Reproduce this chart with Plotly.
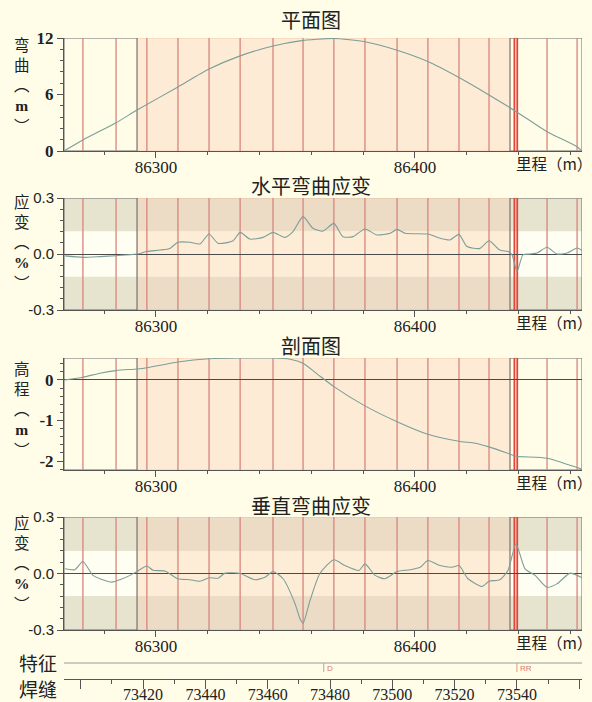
import plotly.graph_objects as go

W, H = 592, 702

# ---------------- data ----------------
plan_x = [86264.5, 86271.8, 86284.6, 86292.7, 86308.5, 86320.5, 86332.5, 86345.2, 86355.6,
          86368.7, 86380.7, 86393.1, 86405.0, 86417.0, 86428.6, 86439.0, 86451.0, 86462.6, 86464.5]
plan_y = [0, 1.17, 3.0, 4.35, 6.8, 8.7, 10.1, 11.15, 11.7,
          11.95, 11.6, 10.7, 9.5, 7.8, 5.95, 4.2, 2.05, 0.45, 0]

hs_x = [86264.9, 86271.8, 86278.4, 86284.6, 86292.7, 86296.5, 86301.6, 86305.4, 86308.5, 86313.1,
        86317.0, 86320.5, 86324.0, 86329.8, 86332.5, 86336.3, 86341.3, 86345.2, 86349.8, 86352.9,
        86356.8, 86360.6, 86364.5, 86368.7, 86372.2, 86376.1, 86380.7, 86385.3, 86390.4, 86393.1,
        86396.2, 86405.0, 86409.7, 86413.5, 86417.0, 86420.1, 86425.1, 86428.6, 86432.8, 86435.9,
        86437.5, 86439.4, 86441.7, 86444.4, 86447.1, 86451.0, 86454.8, 86458.7, 86462.6, 86464.5]
hs_y = [-0.01, -0.018, -0.014, -0.009, 0.0, 0.013, 0.021, 0.03, 0.063, 0.063,
        0.054, 0.107, 0.057, 0.071, 0.116, 0.08, 0.089, 0.116, 0.089, 0.12,
        0.2, 0.138, 0.123, 0.164, 0.093, 0.093, 0.134, 0.102, 0.111, 0.132,
        0.111, 0.107, 0.084, 0.075, 0.105, 0.04, 0.03, 0.071, 0.021, 0.013,
        -0.005, -0.095, -0.005, 0.0, 0.005, 0.036, 0.0, 0.005, 0.032, 0.02]

el_x = [86264.9, 86271.8, 86278.4, 86284.6, 86292.7, 86296.5, 86308.5, 86320.5, 86332.5, 86345.2,
        86351.8, 86356.8, 86362.2, 86368.7, 86380.7, 86393.1, 86405.0, 86417.0, 86423.2, 86428.6,
        86436.7, 86439.0, 86451.0, 86462.6, 86464.5]
el_y = [0, 0.066, 0.165, 0.23, 0.27, 0.30, 0.44, 0.52, 0.54, 0.54,
        0.51, 0.41, 0.15, -0.165, -0.64, -1.03, -1.34, -1.51, -1.56, -1.65,
        -1.83, -1.88, -1.93, -2.16, -2.2]

vs_x = [86264.9, 86268.7, 86271.8, 86275.7, 86280.3, 86283.0, 86286.1, 86290.0, 86292.7, 86296.5,
        86298.9, 86303.5, 86308.5, 86313.1, 86317.0, 86320.5, 86324.0, 86326.7, 86332.5, 86338.2,
        86342.1, 86345.2, 86349.1, 86353.7, 86355.6, 86356.8, 86359.5, 86363.3, 86368.7, 86373.0,
        86378.4, 86380.7, 86384.6, 86388.4, 86393.1, 86398.1, 86402.0, 86405.0, 86409.7, 86414.3,
        86417.0, 86420.5, 86425.9, 86428.6, 86432.8, 86435.9, 86439.0, 86442.5, 86446.4, 86451.0,
        86454.8, 86459.9, 86462.6, 86464.5]
vs_y = [0.025, 0.02, 0.064, -0.01, -0.037, -0.046, -0.033, -0.01, 0.011, 0.04,
        0.017, 0.013, -0.028, -0.033, -0.041, -0.023, -0.025, 0.002, 0.0, -0.033,
        -0.02, 0.011, -0.028, -0.16, -0.24, -0.264, -0.143, 0.0, 0.073, 0.042,
        0.016, 0.051, -0.01, -0.028, 0.011, 0.02, 0.033, 0.069, 0.042, 0.033,
        0.042, -0.028, -0.069, -0.041, -0.033, 0.016, 0.158, 0.025, -0.01, -0.073,
        -0.055, 0.002, -0.01, -0.023]

weld_x = [86271.8, 86284.6, 86296.5, 86308.5, 86320.5, 86332.5, 86345.2, 86356.8, 86368.7,
          86380.7, 86393.1, 86405.0, 86417.0, 86428.6, 86451.0, 86462.6]
special_weld_x = [86438.4, 86439.5]

mile_range = [86264.5, 86464.5]
mile_ticks = [86300, 86400]
inspect_left = 86292.7      # start of shaded zone
inspect_right = 86436.7     # end of shaded zone
strain_band = 0.12

odo_range = [73394.6, 73560.9]
odo_ticks = [73400, 73420, 73440, 73460, 73480, 73500, 73520, 73540, 73560]
odo_labels = ["", "73420", "73440", "73460", "73480", "73500", "73520", "73540", ""]
feature_pos = [73478, 73540]
feature_txt = ["D", "RR"]

titles = ["平面图", "水平弯曲应变", "剖面图", "垂直弯曲应变"]
ytitle_names = ["弯曲", "应变", "高程", "应变"]
ytitle_units = ["m", "%", "m", "%"]

# ---------------- styling helpers ----------------
BG = "#FFFDE8"
LINE_C = "#7C9E98"
WELD_C = "#D8857C"
AX_C = "#555555"
TXT_C = "#222222"
SERIF = "Liberation Serif, DejaVu Serif, serif"
SANS = "Liberation Sans, Arial, sans-serif"
CJK = "Noto Sans CJK SC"

def py(p):
    return 1 - p / H

def px(p):
    return p / W

panels = [(38, 151), (198, 310), (358, 470), (517, 630)]
xdom = [px(64), px(582)]

fig = go.Figure()
series = [(plan_x, plan_y), (hs_x, hs_y), (el_x, el_y), (vs_x, vs_y)]
for i, (sx, sy) in enumerate(series):
    n = "" if i == 0 else str(i + 1)
    fig.add_trace(go.Scatter(x=sx, y=sy, mode="lines",
                             line=dict(color=LINE_C, width=1.1, shape="spline", smoothing=0.6),
                             xaxis="x" + n, yaxis="y" + n, showlegend=False, hoverinfo="skip"))
# dummy trace for feature axis
fig.add_trace(go.Scatter(x=[odo_range[0]], y=[0.5], mode="markers", marker=dict(opacity=0),
                         xaxis="x5", yaxis="y5", showlegend=False, hoverinfo="skip"))

yranges = [[0, 12], [-0.3, 0.3], [-2.22, 0.54], [-0.3, 0.3]]
yticks = [([0, 6, 12], ["0", "6", "12"]),
          ([-0.3, 0, 0.3], ["-0.3", "0.0", "0.3"]),
          ([-2, -1, 0], ["-2", "-1", "0"]),
          ([-0.3, 0, 0.3], ["-0.3", "0.0", "0.3"])]
yminor = [1.2, 0.06, 0.2, 0.06]
yfont = [dict(family=SERIF, size=17, color=TXT_C, weight="bold"),
         dict(family=SANS, size=15, color=TXT_C),
         dict(family=SERIF, size=17, color=TXT_C, weight="bold"),
         dict(family=SANS, size=15, color=TXT_C)]

layout = dict(width=W, height=H, margin=dict(l=0, r=0, t=0, b=0, autoexpand=False),
              paper_bgcolor=BG, plot_bgcolor="rgba(0,0,0,0)", showlegend=False,
              template="none")

shapes = []
annotations = []

for i, (top, bot) in enumerate(panels):
    n = "" if i == 0 else str(i + 1)
    xa = "x" + n
    ya = "y" + n
    y_lo, y_hi = yranges[i]
    layout["xaxis" + n] = dict(
        domain=xdom, anchor=ya, range=mile_range, tickvals=mile_ticks, automargin=False,
        ticktext=[str(t) for t in mile_ticks], ticks="outside", ticklen=6, tickcolor=AX_C,
        ticklabelstandoff=-5,
        showline=True, linecolor=AX_C, linewidth=1, showgrid=False, zeroline=False,
        minor=dict(dtick=20, tick0=86300, ticks="outside", ticklen=3, tickcolor=AX_C, showgrid=False),
        tickfont=dict(family=SERIF, size=17, color=TXT_C), fixedrange=True)
    tv, tt = yticks[i]
    layout["yaxis" + n] = dict(
        domain=[py(bot), py(top)], anchor=xa, range=yranges[i], tickvals=tv, ticktext=tt,
        automargin=False,
        ticks="outside", ticklen=6, tickcolor=AX_C, showline=True, linecolor=AX_C, linewidth=1,
        showgrid=False, zeroline=(i > 0), zerolinecolor="#4a4a4a", zerolinewidth=1,
        minor=dict(dtick=yminor[i], tick0=0, ticks="outside", ticklen=3, tickcolor=AX_C, showgrid=False),
        tickfont=yfont[i], fixedrange=True)

    def rect(x0, x1, y0, y1, fill, line=None):
        shapes.append(dict(type="rect", xref=xa, yref=ya, x0=x0, x1=x1, y0=y0, y1=y1,
                           fillcolor=fill, line=line or dict(width=0), layer="below"))

    if i in (1, 3):
        # outer zones
        rect(mile_range[0], mile_range[1], strain_band, y_hi, "#E6E3CF")
        rect(mile_range[0], mile_range[1], y_lo, -strain_band, "#E6E3CF")
        rect(mile_range[0], mile_range[1], -strain_band, strain_band, "#FFFEF2")
        # inspected zone
        rect(inspect_left, inspect_right, strain_band, y_hi, "#ECDCC6")
        rect(inspect_left, inspect_right, y_lo, -strain_band, "#ECDCC6")
        rect(inspect_left, inspect_right, -strain_band, strain_band, "#FDEDD7")
        rect(inspect_left, inspect_right, y_lo, y_hi, "rgba(0,0,0,0)",
             dict(color="rgba(230,160,120,0.5)", width=1))
    else:
        rect(inspect_left, inspect_right, y_lo, y_hi, "#FDEBD5", dict(color="#F2CDB0", width=1))
    # boxed (unshaded) end zones
    rect(mile_range[0], inspect_left, y_lo, y_hi, "rgba(0,0,0,0)", dict(color="#6a6a6a", width=1))
    rect(inspect_right, mile_range[1], y_lo, y_hi, "rgba(0,0,0,0)", dict(color="#6a6a6a", width=1))
    # girth welds
    for wx in weld_x:
        shapes.append(dict(type="line", xref=xa, yref=ya, x0=wx, x1=wx, y0=y_lo, y1=y_hi,
                           line=dict(color=WELD_C, width=1.3), layer="below"))
    for wx in special_weld_x:
        shapes.append(dict(type="line", xref=xa, yref=ya, x0=wx, x1=wx, y0=y_lo, y1=y_hi,
                           line=dict(color="#E2443A", width=1.8), layer="below"))

    # title
    title_y = [20, 185, 345, 505][i]
    annotations.append(dict(text=titles[i], xref="paper", yref="paper", x=px(311), y=py(title_y),
                            showarrow=False, xanchor="center", yanchor="middle",
                            font=dict(family=CJK, size=20, color=TXT_C)))
    # distance label
    annotations.append(dict(text="里程（m）", xref="paper", yref="paper", x=px(514),
                            y=py(bot + 12), showarrow=False, xanchor="left", yanchor="middle",
                            font=dict(family=CJK + ", " + SERIF, size=15.5, color=TXT_C)))

    # vertical y-axis title (one stacked text block)
    name = ytitle_names[i]
    unit = ytitle_units[i]
    stacked = "<br>".join(list(name) + ["︵", "<b><span style='font-family:Liberation Serif'>%s</span></b>" % unit, "︶"])
    centre = [84, 242, 408, 562][i]
    annotations.append(dict(text=stacked, xref="paper", yref="paper", x=px(22), y=py(centre),
                            showarrow=False, xanchor="center", yanchor="middle", align="center",
                            font=dict(family=CJK, size=15.5, color=TXT_C)))

# feature weld strip
layout["xaxis5"] = dict(domain=xdom, anchor="y5", range=odo_range, tickvals=odo_ticks,
                        ticktext=odo_labels, ticks="outside", ticklen=9, tickcolor=AX_C,
                        automargin=False, ticklabelstandoff=-8,
                        showline=True, linecolor=AX_C, linewidth=1, showgrid=False, zeroline=False,
                        minor=dict(dtick=10, tick0=73400, ticks="outside", ticklen=4, tickcolor=AX_C,
                                   showgrid=False),
                        tickfont=dict(family=SERIF, size=16, color=TXT_C), fixedrange=True)
layout["yaxis5"] = dict(domain=[py(679), py(663)], anchor="x5", range=[0, 1], visible=False,
                        fixedrange=True, automargin=False)
shapes.append(dict(type="line", xref="x5 domain", yref="paper", x0=0, x1=1, y0=py(663), y1=py(663),
                   line=dict(color="#9a9a9a", width=1)))
for fp, ft in zip(feature_pos, feature_txt):
    shapes.append(dict(type="line", xref="x5", yref="paper", x0=fp, x1=fp, y0=py(663), y1=py(672),
                       line=dict(color="#D99A88", width=1)))
    annotations.append(dict(text=ft, xref="x5", yref="paper", x=fp, y=py(668), showarrow=False,
                            xanchor="left", yanchor="middle", xshift=1,
                            font=dict(family=SANS, size=8, color="#D07870")))
annotations.append(dict(text="特征", xref="paper", yref="paper", x=px(38), y=py(662), showarrow=False,
                        xanchor="center", yanchor="middle", font=dict(family=CJK, size=19, color=TXT_C)))
annotations.append(dict(text="焊缝", xref="paper", yref="paper", x=px(38), y=py(688), showarrow=False,
                        xanchor="center", yanchor="middle", font=dict(family=CJK, size=19, color=TXT_C)))

layout["shapes"] = shapes
layout["annotations"] = annotations
fig.update_layout(**layout)
fig.write_html(
    "out.html",
    config={"displayModeBar": False, "staticPlot": True},
    post_script="document.body.style.margin='0';document.body.style.overflow='hidden';")
